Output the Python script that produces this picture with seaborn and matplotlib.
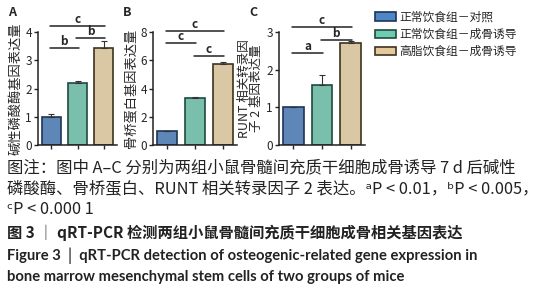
import numpy as np
import pandas as pd
import matplotlib
matplotlib.use("Agg")
import matplotlib.pyplot as plt
import seaborn as sns
from matplotlib.patches import Patch

sns.set_style("ticks")
plt.rcParams['font.family'] = ['Noto Sans CJK SC', 'DejaVu Sans']
plt.rcParams['axes.unicode_minus'] = False

# 数据
groups = ["正常饮食组－对照", "正常饮食组－成骨诱导", "高脂饮食组－成骨诱导"]
alp_mean = [1.0, 2.18, 3.42]
alp_sd = [0.10, 0.08, 0.25]
opn_mean = [1.0, 3.35, 5.75]
opn_sd = [0.02, 0.05, 0.10]
runx_mean = [1.0, 1.60, 2.70]
runx_sd = [0.02, 0.25, 0.05]

panel_letters = ["A", "B", "C"]
ylabels = ["碱性磷酸酶基因表达量", "骨桥蛋白基因表达量", "RUNT 相关转录因\n子 2 基因表达量"]
yticks = [[0, 1, 2, 3, 4], [0, 2, 4, 6, 8], [0, 1, 2, 3]]
# 显著性标注: (起, 止, 高度, 标记)
sig_alp = [(0, 2, 4.2, "c"), (0, 1, 3.44, "b"), (1, 2, 3.78, "b")]
sig_opn = [(0, 2, 8.1, "c"), (0, 1, 7.2, "c"), (1, 2, 6.3, "c")]
sig_runx = [(0, 2, 3.12, "c"), (0, 1, 2.45, "a"), (1, 2, 2.8, "b")]

colors = ["#4f86c6", "#6dcbb0", "#e3c99b"]
edges = ["#1c3557", "#1e4a3e", "#3e3220"]

fig = plt.figure(figsize=(5.38, 3.0), dpi=100)
W, H = 538, 300
boxes = [(38, 117), (153, 237), (279, 365)]
top_px, bot_px = 32, 145

panels = [(alp_mean, alp_sd, sig_alp), (opn_mean, opn_sd, sig_opn), (runx_mean, runx_sd, sig_runx)]

for i, (means, sds, sigs) in enumerate(panels):
    l, r = boxes[i]
    ax = fig.add_axes([l / W, 1 - bot_px / H, (r - l) / W, (bot_px - top_px) / H])
    df = pd.DataFrame({"group": groups, "value": means})
    sns.barplot(data=df, x="group", y="value", hue="group", palette=colors,
                order=groups, hue_order=groups, dodge=False, width=0.72,
                legend=False, ax=ax, errorbar=None)
    for j, p in enumerate(ax.patches):
        p.set_edgecolor(edges[j])
        p.set_linewidth(1.2)
    ax.errorbar(range(3), means, yerr=[np.zeros(3), sds], fmt="none",
                ecolor="#333333", elinewidth=0.8, capsize=2.5, capthick=0.8)
    ax.set_xlim(-0.5, 2.5)
    ax.set_ylim(0, yticks[i][-1])
    ax.set_yticks(yticks[i])
    ax.set_xticks(range(3))
    ax.set_xticklabels([])
    ax.set_xlabel("")
    ax.set_ylabel(ylabels[i], fontsize=9.5 if i < 2 else 9, labelpad=2, linespacing=0.9)
    ax.tick_params(axis="y", labelsize=8.5, length=3, width=1, pad=1.5)
    ax.tick_params(axis="x", length=3, width=1)
    for s in ["left", "bottom"]:
        ax.spines[s].set_linewidth(1.1)
        ax.spines[s].set_color("#222222")
    sns.despine(ax=ax)
    for (a, b, h, lab) in sigs:
        ax.plot([a - 0.05, b + 0.05], [h, h], color="#222222", lw=1.1, clip_on=False)
        ax.text((a + b) / 2, h, lab, ha="center", va="bottom", fontsize=8.5,
                fontweight="bold", clip_on=False)
    fig.text((l - 30) / W, 1 - 13 / H, panel_letters[i], fontsize=9, fontweight="bold",
             ha="left", va="center")

handles = [Patch(facecolor=c, edgecolor=e, linewidth=1.2) for c, e in zip(colors, edges)]
fig.legend(handles, groups, loc="upper left", bbox_to_anchor=(370 / W, 1 - 6 / H),
           frameon=False, fontsize=8.5, handlelength=1.8, handleheight=0.7,
           handletextpad=0.3, labelspacing=0.35, borderaxespad=0)

cap = dict(ha="left", va="center", color="#222222")
fig.text(7 / W, 1 - 168 / H, "图注：图中 A–C 分别为两组小鼠骨髓间充质干细胞成骨诱导 7 d 后碱性",
         fontsize=11.8, **cap)
fig.text(7 / W, 1 - 189 / H, "磷酸酶、骨桥蛋白、RUNT 相关转录因子 2 表达。ᵃP < 0.01，ᵇP < 0.005，",
         fontsize=11.8, **cap)
fig.text(7 / W, 1 - 210 / H, "ᶜP < 0.000 1", fontsize=11.8, **cap)
fig.text(7 / W, 1 - 233 / H, "图 3 │ qRT-PCR 检测两组小鼠骨髓间充质干细胞成骨相关基因表达",
         fontsize=11, fontweight="bold", **cap)
en = ['Lato', 'DejaVu Sans']
fig.text(7 / W, 1 - 256 / H, "Figure 3 │ qRT-PCR detection of osteogenic-related gene expression in",
         fontsize=10.6, fontweight="bold", family=en, **cap)
fig.text(7 / W, 1 - 277 / H, "bone marrow mesenchymal stem cells of two groups of mice",
         fontsize=10.6, fontweight="bold", family=en, **cap)

fig.savefig("out.png", dpi=100)
